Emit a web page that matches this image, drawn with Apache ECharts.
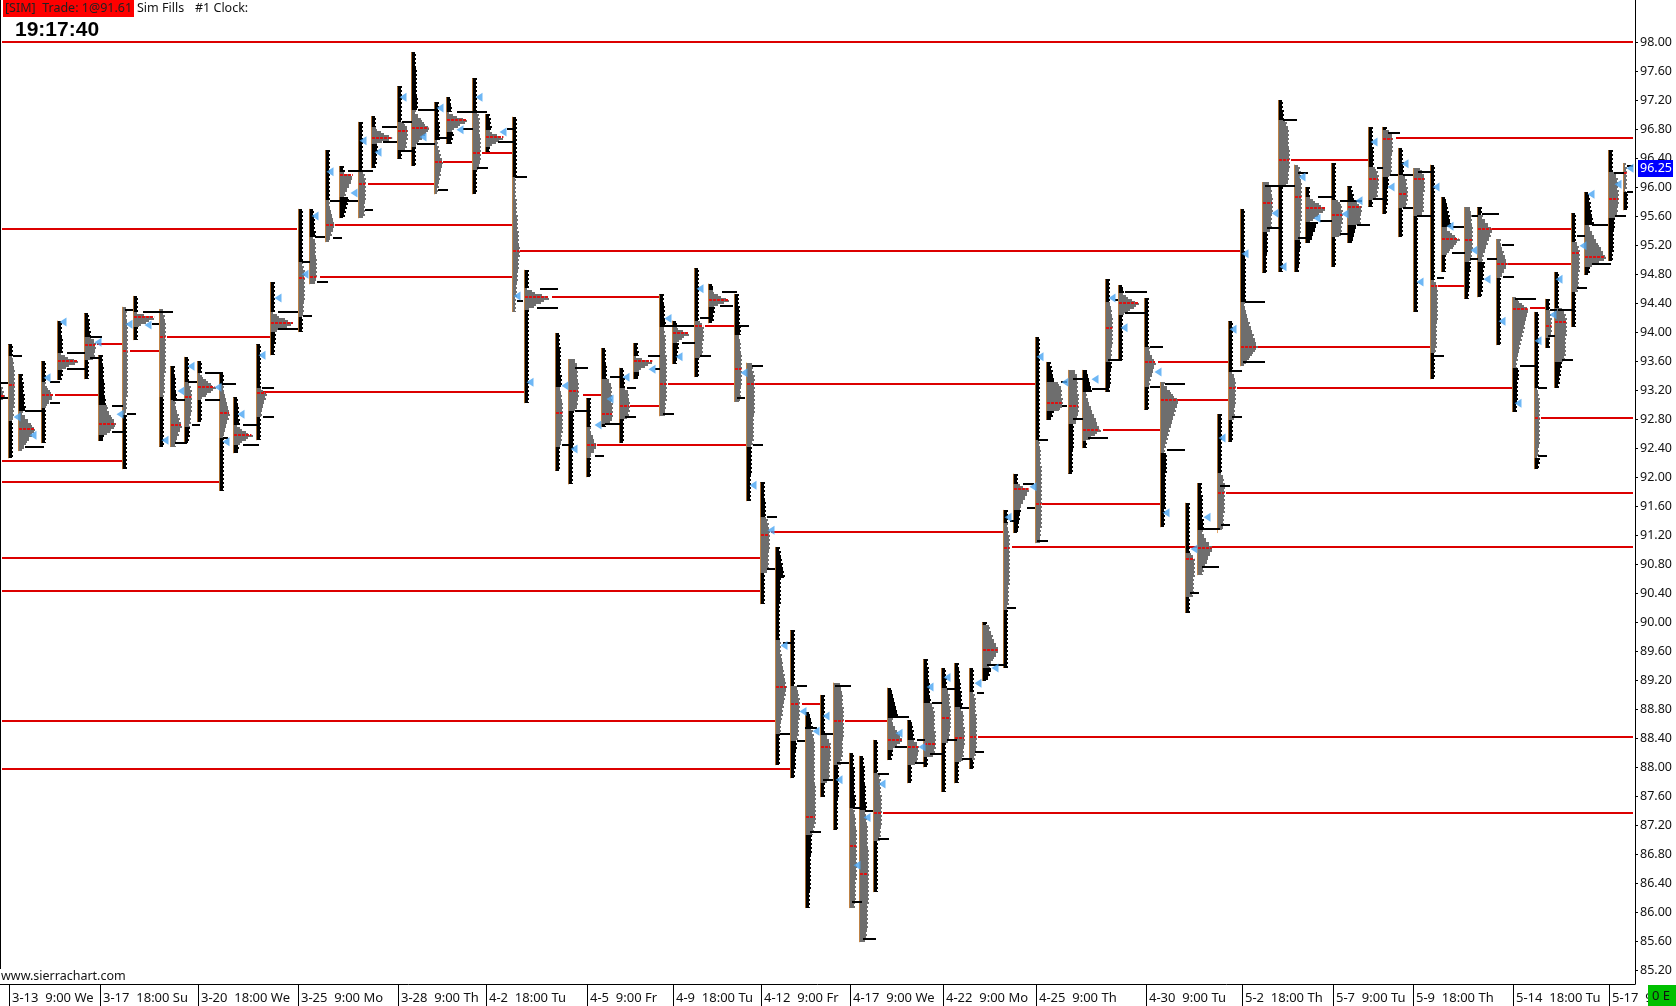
<!DOCTYPE html>
<html><head><meta charset="utf-8">
<style>html,body{margin:0;padding:0;background:#fff}#c{width:1676px;height:1006px}</style>
<script src="https://cdn.jsdelivr.net/npm/echarts@6/dist/echarts.min.js"></script>
</head><body><div id="c"></div>
<script>
var priceTicks=[85.2,85.6,86,86.4,86.8,87.2,87.6,88,88.4,88.8,89.2,89.6,90,90.4,90.8,91.2,91.6,92,92.4,92.8,93.2,93.6,94,94.4,94.8,95.2,95.6,96,96.4,96.8,97.2,97.6,98];
var timeBars=[9,100,198,298,398,486,587,673,761,850,943,1036,1146,1242,1333,1413,1513,1609];
var timeLabels=["3-13  9:00 We","3-17  18:00 Su","3-20  18:00 We","3-25  9:00 Mo","3-28  9:00 Th","4-2  18:00 Tu","4-5  9:00 Fr","4-9  18:00 Tu","4-12  9:00 Fr","4-17  9:00 We","4-22  9:00 Mo","4-25  9:00 Th","4-30  9:00 Tu","5-2  18:00 Th","5-7  9:00 Tu","5-9  18:00 Th","5-14  18:00 Tu","5-17  9:00 Fr"];
// bar, high, profileTop, profileBottom, low, poc, pocVolume, baseVolume, topTailVolume, bottomTailVolume
var profiles=[
[0,93.27,93.27,93.06,93.06,93.12,5,3,0,0],[8,93.83,93.67,92.78,92.26,93.27,7,5,3,5],[18,93.42,92.92,92.36,92.36,92.67,18,6,8,0],[41,93.6,93.31,92.96,92.47,93.13,13,6,4,5],
[57,94.16,93.71,93.48,93.34,93.6,22,6,6,6],[84,94.26,93.94,93.61,93.35,93.82,12,8,7,5],[98,93.68,92.99,92.58,92.5,92.73,19,12,8,6],[122,94.35,94.35,92.86,92.11,93.74,6,6,0,5],
[133,94.5,94.28,94.07,93.89,94.21,23,6,5,5],[159,94.32,94.32,93.1,92.42,93.94,7,6,0,4],[170,93.53,93.06,92.42,92.42,92.72,12,7,7,0],[184,93.66,93.31,92.69,92.47,93.1,8,7,3,6],
[197,93.6,93.44,93.06,92.76,93.24,19,5,4,5],[219,93.44,93.28,92.54,91.81,92.88,11,6,3,3],[233,93.1,92.72,92.44,92.33,92.58,20,6,7,6],[256,93.83,93.23,92.83,92.51,93.16,11,7,4,4],
[270,94.69,94.28,94,93.68,94.13,25,5,5,6],[298,95.7,94.97,94.21,94,94.75,7,6,4,4],[309,95.7,95.31,94.66,94.66,94.76,8,6,7,0],[325,96.51,95.82,95.24,95.24,95.48,10,6,5,0],
[339,96.29,96.21,95.86,95.57,96.17,15,8,6,10],[358,96.9,96.24,95.57,95.57,96.04,8,6,4,0],[371,96.98,96.83,96.59,96.26,96.68,23,6,5,7],[397,97.39,96.9,96.51,96.39,96.77,11,8,3,4],
[411,97.86,97.06,96.55,96.29,96.81,19,6,7,5],[434,97.17,96.65,95.9,95.9,96.35,9,5,6,0],[446,97.24,97.03,96.76,96.6,96.92,22,5,6,8],[472,97.5,97.03,96.24,95.9,96.47,9,6,4,4],
[485,97.01,96.79,96.55,96.48,96.69,20,6,7,5],[512,96.97,96.14,94.28,94.28,95.12,8,5,5,0],[524,94.86,94.61,94.3,93.02,94.48,27,5,3,3],[555,93.99,93.25,92.42,92.09,92.88,8,7,7,2],
[568,93.63,93.63,92.92,91.9,93.19,11,8,0,6],[586,93.09,92.69,92.26,92,92.44,11,6,5,5],[601,93.78,93.36,92.74,92.69,92.87,12,8,6,5],[619,93.51,93.23,92.8,92.47,92.98,11,8,6,5],
[633,93.85,93.67,93.45,93.35,93.6,21,5,6,7],[659,94.52,94.07,92.84,92.84,93.28,8,6,7,0],[672,94.16,94.09,93.85,93.56,93.99,18,6,4,7],[694,94.88,94.16,93.65,93.38,94.09,10,8,4,5],
[708,94.67,94.58,94.34,94.12,94.44,22,6,6,7],[734,94.53,93.96,93.04,93.04,93.49,8,6,7,0],[746,93.58,93.58,92.42,91.67,93.28,9,8,0,6],[760,91.93,91.45,90.68,90.25,91.21,10,7,6,5],
[775,91.04,90.61,90.61,89.95,90.61,0,0,10,6],[775,90.06,89.76,88.46,88.03,89.11,12,7,4,3],[790,89.89,89.12,88.36,87.85,88.88,10,7,3,7],[805,88.76,88.54,87.07,86.06,87.32,11,9,8,7],
[820,89,88.45,87.78,87.59,88.28,11,8,5,5],[833,89.17,89.17,88.03,87.14,88.64,11,9,0,6],[849,88.2,87.44,86.06,86.06,86.92,8,7,7,0],[859,88.16,87.41,85.59,85.59,86.53,10,7,8,0],
[873,88.38,87.92,86.98,86.28,87.37,9,8,5,5],[887,89.1,88.68,88.24,88.1,88.38,16,7,12,6],[907,88.65,88.38,88.03,87.78,88.28,12,8,8,3],[923,89.49,88.89,88.14,88,88.32,13,9,8,4],
[941,89.37,89.1,88.34,87.66,88.68,10,8,6,5],[954,89.44,88.83,88.07,87.78,88.41,11,9,9,5],[969,89.37,89.04,88.1,87.98,88.42,8,7,5,4],[982,90,89.96,89.37,89.19,89.62,17,10,3,10],
[1003,91.55,91.37,90.17,89.37,91.03,7,6,5,5],[1013,92.05,91.91,91.55,91.23,91.84,17,10,5,8],[1035,93.93,92.51,91.09,91.09,91.63,7,5,4,0],[1046,93.59,93.31,92.92,92.79,93.03,17,12,9,8],
[1068,93.48,93.48,92.74,92.05,92.98,11,8,0,6],[1082,93.48,93.17,92.5,92.4,92.65,19,6,11,5],[1105,94.73,94.41,93.59,93.18,94.06,8,8,4,7],[1118,94.65,94.54,94.24,93.62,94.4,22,7,6,4],
[1144,94.47,93.8,93.24,92.93,93.59,12,7,4,4],[1160,93.31,93.31,92.33,91.31,93.06,19,6,0,7],[1185,91.65,90.96,90.35,90.13,90.87,10,8,5,5],[1197,91.92,91.27,90.65,90.65,91.02,16,7,7,0],
[1217,92.87,92.06,91.27,91.23,91.78,8,7,3,0],[1228,94.15,93.45,92.79,92.49,93.23,8,7,4,4],[1240,95.7,94.42,93.53,93.53,93.8,18,6,6,0],[1262,96.07,96.07,95.38,94.82,95.78,11,8,0,6],
[1278,97.2,96.92,96,94.83,96.37,12,9,6,5],[1294,96.31,96.31,95.27,94.83,95.86,8,7,0,7],[1305,96,95.86,95.52,95.23,95.71,22,8,4,13],[1331,96.33,95.82,95.31,94.9,95.62,12,9,5,5],
[1347,96.01,95.79,95.48,95.23,95.72,15,10,8,10],[1368,96.83,96.28,95.82,95.73,96.11,11,9,6,4],[1382,96.83,96.79,96.14,95.63,96.66,11,9,2,7],[1398,96.54,96.17,95.71,95.31,95.9,10,8,6,4],
[1413,96.26,96.26,95.6,94.28,96.11,12,10,0,5],[1430,96.31,94.72,93.71,93.35,94.64,8,8,3,5],[1441,95.86,95.45,95.06,94.83,95.28,19,8,11,4],[1464,95.72,95.72,94.97,94.46,95.27,9,7,0,7],
[1477,95.72,95.61,94.97,94.48,95.42,16,7,3,8],[1496,95.28,95.28,94.75,93.82,94.94,12,6,0,3],[1512,94.48,94.48,93.5,92.9,94.32,17,6,0,7],[1534,94.28,93.23,92.26,92.11,92.82,6,6,5,6],
[1545,94.46,94.3,93.92,93.78,94.08,7,6,4,4],[1554,94.83,94.33,93.59,93.23,94.14,13,10,4,8],[1571,95.64,95.24,94.55,94.07,95.09,9,7,4,4],[1584,95.93,95.48,94.9,94.79,95.03,23,8,10,6],
[1608,96.51,96.21,95.57,94.98,95.84,11,9,5,7],[1623,96.33,96.33,95.93,95.68,96.19,4,4,0,3]
];
// startBar, endBar, price
var pocLines=[
[2,1633,98],[2,297,95.42],[2,124,92.23],[2,221,91.93],[2,760,90.89],[2,760,90.43],[2,775,88.64],[2,790,87.98],
[55,100,93.13],[97,122,93.83],[130,159,93.74],[167,272,93.94],[262,525,93.17],[320,512,94.76],[335,512,95.48],[368,434,96.04],[443,472,96.35],[482,512,96.47],[520,1240,95.12],
[552,659,94.48],[668,734,93.28],[755,1035,93.28],[583,601,93.13],[630,659,92.98],[597,746,92.44],[705,734,94.09],[771,1003,91.24],[802,820,88.88],[845,887,88.64],
[883,1633,87.37],[978,1633,88.42],[1012,1633,91.04],[1042,1160,91.63],[1103,1160,92.65],[1176,1228,93.07],[1237,1512,93.23],[1158,1228,93.59],[1226,1633,91.78],[1258,1430,93.8],
[1291,1368,96.37],[1396,1633,96.68],[1492,1572,95.42],[1508,1571,94.94],[1438,1464,94.63],[1541,1633,92.82],[1530,1545,94.33]
];
var levelTicks=[
[0,8,93.3],[0,8,93.09],[13,22,93.67],[25,42,92.92],[25,44,92.42],[50,60,93.31],[50,60,93.02],[67,85,93.71],[67,85,93.49],[90,102,93.94],[90,102,93.64],[112,123,92.98],[112,123,92.62],
[127,136,92.87],[125,133,94.3],[143,173,94.28],[152,159,94.11],[173,185,93.06],[175,187,92.47],[188,197,93.31],[192,200,92.72],[205,223,93.44],[205,220,93.06],[222,236,93.28],[223,228,92.54],
[243,257,92.72],[243,259,92.44],[262,274,93.23],[263,274,92.83],[278,298,94.28],[278,298,94.04],[302,310,94.97],[303,312,94.22],[315,325,95.31],[317,328,94.69],[330,340,95.81],[333,342,95.3],
[348,373,96.22],[343,358,95.81],[365,373,95.68],[382,397,96.83],[383,397,96.62],[402,412,96.9],[402,412,96.5],[418,437,97.06],[417,435,96.59],[438,448,96.68],[438,448,95.96],[457,487,97.03],
[463,473,96.8],[477,488,96.26],[507,513,96.8],[498,513,96.62],[515,527,96.14],[517,523,94.43],[540,558,94.6],[537,558,94.33],[562,570,92.45],[575,588,93.5],[575,588,92.92],[595,604,92.29],
[610,620,93.38],[605,620,92.74],[627,636,93.23],[625,636,92.83],[648,660,93.67],[655,660,93.49],[665,694,94.09],[663,674,92.87],[682,695,93.85],[700,713,94.2],[700,711,93.67],[722,737,94.55],
[720,733,94.36],[737,749,94.09],[737,745,93.09],[752,763,93.53],[753,763,92.44],[767,777,91.45],[767,775,90.74],[783,793,89.71],[780,790,88.46],[797,807,89.12],[797,805,88.36],[805,817,88.54],
[810,821,87.11],[823,833,88.46],[823,833,87.82],[835,851,89.12],[837,849,88.06],[853,862,87.44],[852,862,86.14],[865,873,87.4],[863,876,85.63],[878,889,87.91],[878,889,87.01],[898,909,88.69],
[895,907,88.28],[917,925,88.38],[915,926,88.06],[932,942,88.89],[930,942,88.18],[947,957,89.08],[947,957,88.38],[960,969,88.82],[962,972,88.11],[977,984,89.02],[975,984,88.21],[987,1005,89.41],
[1007,1016,90.2],[1023,1034,91.91],[1027,1035,91.58],[1010,1014,91.4],[1038,1048,92.51],[1037,1048,91.12],[1061,1067,93.31],[1062,1067,92.98],[1073,1083,93.35],[1073,1083,92.8],[1092,1107,93.22],
[1088,1108,92.54],[1115,1118,94.44],[1108,1122,93.62],[1125,1147,94.55],[1125,1145,94.26],[1150,1163,93.8],[1150,1160,93.25],[1165,1185,93.29],[1167,1185,92.37],[1190,1199,90.4],[1202,1220,91.29],
[1202,1219,90.76],[1220,1230,91.88],[1221,1230,91.34],[1232,1242,93.46],[1232,1242,92.83],[1245,1265,94.42],[1243,1265,93.59],[1265,1295,96.01],[1267,1279,95.44],[1283,1297,96.92],[1298,1308,96.19],
[1298,1307,95.3],[1318,1332,95.86],[1320,1332,95.53],[1340,1348,95.81],[1340,1352,95.35],[1353,1362,95.81],[1357,1370,95.48],[1377,1383,96.26],[1373,1383,95.84],[1388,1400,96.75],[1390,1398,96.17],
[1403,1413,96.17],[1403,1413,95.71],[1418,1433,96.21],[1417,1432,95.6],[1437,1444,94.75],[1435,1444,93.67],[1453,1464,95.45],[1452,1465,95.09],[1472,1478,95.6],[1470,1478,95.01],[1482,1499,95.63],
[1487,1497,95.01],[1502,1514,95.2],[1503,1514,94.76],[1515,1536,94.46],[1520,1536,93.53],[1538,1547,93.23],[1538,1547,92.29],[1550,1557,94.3],[1548,1555,93.95],[1558,1572,94.3],[1562,1573,93.62],
[1577,1585,95.32],[1577,1587,94.61],[1592,1608,95.48],[1592,1611,94.94],[1614,1624,96.19],[1615,1626,95.6],[1627,1633,96.29],[1627,1633,95.93]
];
// bar, price
var fillMarks=[
[17,92.83],[33,92.58],[47,93.37],[63,94.14],[98,93.86],[120,92.87],[129,94.11],[148,94.1],[165,92.51],[181,93.19],[191,93.53],[218,93.24],[226,92.49],[241,92.87],[262,93.68],[278,94.47],
[305,94.8],[315,95.6],[330,96.21],[354,95.92],[363,96.64],[378,96.48],[403,97.24],[423,96.69],[440,97.09],[460,96.79],[479,97.24],[503,96.76],[517,94.5],[530,93.31],[565,93.26],[574,92.39],
[598,92.72],[610,93.08],[626,93.38],[652,93.49],[668,94.19],[679,93.66],[700,94.6],[744,93.44],[753,91.89],[771,91.27],[784,89.68],[803,88.77],[826,88.71],[816,88.5],[839,87.83],[857,86.65],
[867,87.31],[882,87.77],[899,88.47],[922,88.28],[930,89.11],[947,89.24],[978,89.16],[995,89.37],[1008,91.45],[1033,91.87],[1040,93.66],[1065,93.31],[1095,93.35],[1112,94.47],[1124,94.06],
[1158,93.45],[1166,91.51],[1194,91.01],[1207,91.45],[1222,92.54],[1233,94.04],[1245,95.08],[1275,95.64],[1283,94.9],[1302,96.14],[1317,95.57],[1345,95.63],[1359,95.81],[1374,96.62],[1391,96],
[1405,96.32],[1420,94.69],[1436,96],[1450,95.46],[1474,95.13],[1487,94.73],[1502,94.15],[1518,93.02],[1538,93.88],[1553,94.24],[1559,94.73],[1583,95.19],[1591,95.9],[1618,96.04],[1630,96.26]
];
var priceMin=85.014,priceMax=98.579,barMax=1635,lastPrice="96.25";

var chart=echarts.init(document.getElementById('c'),null,{renderer:'canvas'});
function hLine(api,style){
  var a=api.coord([api.value(0),api.value(2)]),b=api.coord([api.value(1),api.value(2)]);
  var y=Math.round(a[1]);
  return {type:'line',shape:{x1:a[0],y1:y,x2:b[0],y2:y},style:style};
}
function steps(api,x,hiP,loP,widthAt,jag){
  var yTop=Math.round(api.coord([x,hiP])[1]),yBot=Math.round(api.coord([x,loP])[1]);
  var x0=Math.round(api.coord([x,hiP])[0]);
  var unit=api.coord([x+1,hiP])[0]-api.coord([x,hiP])[0];
  var pts=[[x0,yTop]];
  for(var y=yTop;y<yBot;y+=2){
    var t=(y-yTop)/Math.max(1,yBot-yTop);
    var w=Math.round(widthAt(t,y)*unit)+((y>>1)%2?0:jag);
    pts.push([x0+w,y]);pts.push([x0+w,Math.min(y+2,yBot)]);
  }
  pts.push([x0,yBot]);
  return pts;
}
function renderProfile(params,api){
  var x=api.value(0),hi=api.value(1),gt=api.value(2),gb=api.value(3),lo=api.value(4),poc=api.value(5),
      pv=api.value(6),bv=api.value(7),tv=api.value(8),bo=api.value(9);
  var kids=[];
  var thin=5;
  if(hi>gt&&tv>0){
    var tw=Math.max(tv,thin);
    kids.push({type:'polygon',shape:{points:steps(api,x,hi,gt,function(t){return thin+(tw-thin)*t;},-1)},style:{fill:'#000'}});
  }
  if(gb>lo&&bo>0){
    var bw=Math.max(bo,thin);
    kids.push({type:'polygon',shape:{points:steps(api,x,gb,lo,function(t){return thin+(bw-thin)*(1-t);},-1)},style:{fill:'#000'}});
  }
  if(gt>gb){
    var tp=(gt-poc)/(gt-gb);
    var peaked=pv>bv*1.5;
    kids.push({type:'polygon',shape:{points:steps(api,x,gt,gb,function(t){
      var k=t<tp?(tp>0?t/tp:1):(tp<1?(1-t)/(1-tp):1);
      if(peaked){return Math.max(bv*0.8,bv*0.7+(pv-bv*0.7)*Math.pow(k,1.15));}
      var edge=Math.min(1,Math.min(t,1-t)*8);
      return Math.max(bv,pv)*(0.68+0.2*edge+0.12*k);
    },-1)},style:{fill:'#6e6e6e'}});
    var p=api.coord([x,poc]),q=api.coord([x+pv*0.92,poc]);
    kids.push({type:'line',shape:{x1:p[0]+1,y1:Math.round(p[1]),x2:q[0],y2:Math.round(p[1])},style:{stroke:'#dd1111',lineWidth:2,lineDash:[3,1]}});
  }
  var a=api.coord([x,hi]),b=api.coord([x,lo]);
  kids.push({type:'line',shape:{x1:Math.round(a[0])+.5,y1:a[1],x2:Math.round(a[0])+.5,y2:b[1]},style:{stroke:'#d98a3a',lineWidth:1,opacity:.75}});
  return {type:'group',children:kids};
}
var txt='"Noto Sans",sans-serif';
var option={
  animation:false,backgroundColor:'#fff',
  grid:{left:0,right:41,top:0,bottom:22,containLabel:false,outerBoundsMode:'none'},
  xAxis:{type:'value',min:0,max:barMax,position:'bottom',splitLine:{show:false},
    axisLine:{show:true,onZero:false,lineStyle:{color:'#000',width:1}},
    axisTick:{show:true,customValues:timeBars,length:22,lineStyle:{color:'#000',width:1}},
    axisLabel:{show:true,customValues:timeBars,align:'left',margin:8,padding:[0,0,0,3],color:'#111',fontFamily:txt,fontSize:13,hideOverlap:false,
      formatter:function(v){var i=timeBars.indexOf(v);return i<0?'':timeLabels[i];}}},
  yAxis:{type:'value',min:priceMin,max:priceMax,position:'right',splitLine:{show:false},
    axisLine:{show:true,onZero:false,lineStyle:{color:'#000',width:1}},
    axisTick:{show:true,customValues:priceTicks,length:3,lineStyle:{color:'#000',width:1}},
    axisLabel:{show:true,customValues:priceTicks,margin:5,padding:[2,0,0,0],color:'#111',fontFamily:txt,fontSize:12.5,hideOverlap:false,
      formatter:function(v){return v.toFixed(2);}}},
  series:[
    {type:'custom',name:'POC',silent:true,clip:true,z:2,coordinateSystem:'cartesian2d',data:pocLines,encode:{x:0,y:2},
      renderItem:function(p,api){return hLine(api,{stroke:'#dc0000',lineWidth:2});}},
    {type:'custom',name:'Profiles',silent:true,clip:true,z:3,coordinateSystem:'cartesian2d',data:profiles,encode:{x:0,y:1},renderItem:renderProfile},
    {type:'custom',name:'Levels',silent:true,clip:true,z:4,coordinateSystem:'cartesian2d',data:levelTicks,encode:{x:0,y:2},
      renderItem:function(p,api){return hLine(api,{stroke:'#000',lineWidth:2});}},
    {type:'scatter',name:'Fills',silent:true,z:5,data:fillMarks,symbol:'triangle',symbolSize:[9,7],symbolRotate:90,itemStyle:{color:'#4aa5f2'}}
  ],
  graphic:[
    {type:'rect',z:100,left:0,top:0,shape:{width:1,height:969},style:{fill:'#000'}},
    {type:'rect',z:100,left:3,top:0,shape:{width:131,height:17},style:{fill:'#fe0000'}},
    {type:'text',z:101,left:5,top:2,style:{text:'[SIM]  Trade: 1@91.61',fill:'#222',font:'12.5px '+txt}},
    {type:'text',z:101,left:137,top:2,style:{text:'Sim Fills',fill:'#111',font:'12.5px '+txt}},
    {type:'text',z:101,left:195,top:2,style:{text:'#1 Clock:',fill:'#111',font:'12.5px '+txt}},
    {type:'text',z:101,left:15,top:20,style:{text:'19:17:40',fill:'#000',font:'bold 21px "Liberation Sans",Arial,sans-serif'}},
    {type:'text',z:101,left:1,top:970,style:{text:'www.sierrachart.com',fill:'#111',font:'12.5px '+txt}},
    {type:'rect',z:100,left:1638,top:160,shape:{width:35,height:17},style:{fill:'#0000ff'}},
    {type:'text',z:101,left:1640,top:162,style:{text:lastPrice,fill:'#fff',font:'12.5px '+txt}},
    {type:'rect',z:100,left:1648,top:985,shape:{width:28,height:21},style:{fill:'#00c000'}},
    {type:'text',z:101,left:1652,top:990,style:{text:'0 E',fill:'#111',font:'13px '+txt}}
  ]
};
chart.setOption(option);
</script></body></html>
